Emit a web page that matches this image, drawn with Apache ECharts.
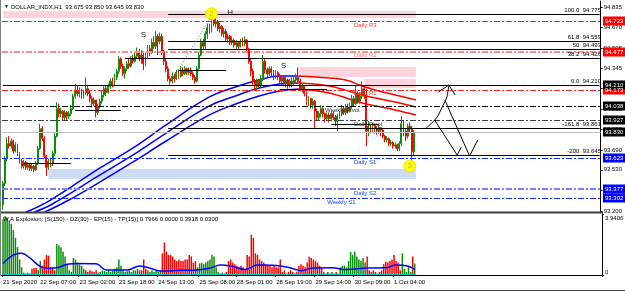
<!DOCTYPE html>
<html>
<head>
<meta charset="utf-8">
<script src="https://cdn.jsdelivr.net/npm/echarts@6/dist/echarts.min.js"></script>
<style>
  html, body { margin: 0; padding: 0; background: #fff; }
  #main { width: 625px; height: 292px; }
</style>
</head>
<body>
<div id="main"></div>
<script>
/* ============================
   DATA  (DOLLAR_INDX H1)
============================ */
const firstOpen = 93.25;
const closes = [
  93.42, 93.62, 93.74, 93.72, 93.76, 93.68, 93.73, 93.66, 93.60, 93.56,
  93.59, 93.55, 93.57, 93.54, 93.56, 93.53, 93.58, 93.70, 93.86, 93.78,
  93.64, 93.55, 93.60, 93.58, 93.66, 93.80, 94.02, 93.98, 94.00, 93.95,
  93.99, 93.96, 93.98, 94.02, 94.12, 94.17, 94.14, 94.16, 94.12, 94.15,
  94.18, 94.14, 94.10, 94.06, 94.09, 93.99, 94.04, 94.08, 94.13, 94.18,
  94.15, 94.20, 94.24, 94.21, 94.27, 94.32, 94.42, 94.36, 94.30, 94.34,
  94.38, 94.36, 94.42, 94.40, 94.44, 94.48, 94.42, 94.45, 94.38, 94.44,
  94.50, 94.47, 94.55, 94.52, 94.60, 94.56, 94.60, 94.48, 94.40, 94.34,
  94.26, 94.24, 94.28, 94.26, 94.31, 94.28, 94.33, 94.30, 94.34, 94.31,
  94.33, 94.30, 94.27, 94.24, 94.34, 94.45, 94.55, 94.52, 94.62, 94.67,
  94.64, 94.74, 94.70, 94.72, 94.66, 94.68, 94.62, 94.64, 94.58, 94.60,
  94.55, 94.57, 94.53, 94.55, 94.52, 94.56, 94.54, 94.57, 94.50, 94.40,
  94.32, 94.24, 94.20, 94.24, 94.21, 94.26, 94.40, 94.33, 94.30, 94.34,
  94.31, 94.28, 94.31, 94.28, 94.24, 94.27, 94.23, 94.25, 94.21, 94.24,
  94.22, 94.25, 94.27, 94.24, 94.18, 94.20, 94.14, 94.08, 94.10, 94.05,
  94.08, 94.00, 93.95, 93.98, 94.02, 93.98, 93.94, 93.97, 93.94, 93.98,
  93.95, 93.92, 93.96, 93.98, 94.02, 93.99, 94.03, 94.00, 94.04, 94.10,
  94.06, 94.14, 94.08, 94.12, 94.18, 94.12, 93.84, 93.88, 93.85, 93.88,
  93.86, 93.84, 93.87, 93.85, 93.80, 93.77, 93.78, 93.74, 93.75, 93.72,
  93.73, 93.70, 93.74, 93.90, 93.84, 93.80, 93.88, 93.86, 93.675, 93.83
];
const highs = [
  93.44, 93.64, 93.79, 93.80, 93.78, 93.77, 93.75, 93.74, 93.67, 93.62,
  93.61, 93.60, 93.59, 93.58, 93.58, 93.57, 93.60, 93.72, 93.90, 93.88,
  93.80, 93.65, 93.62, 93.63, 93.68, 93.83, 94.07, 94.06, 94.03, 94.01,
  94.01, 94.00, 94.00, 94.05, 94.14, 94.22, 94.20, 94.19, 94.18, 94.17,
  94.27, 94.20, 94.16, 94.12, 94.11, 94.09, 94.06, 94.10, 94.16, 94.20,
  94.21, 94.22, 94.26, 94.27, 94.30, 94.34, 94.44, 94.43, 94.38, 94.36,
  94.40, 94.42, 94.44, 94.45, 94.47, 94.51, 94.50, 94.49, 94.47, 94.47,
  94.53, 94.53, 94.58, 94.60, 94.64, 94.62, 94.63, 94.62, 94.49, 94.42,
  94.36, 94.28, 94.31, 94.30, 94.33, 94.33, 94.36, 94.35, 94.36, 94.35,
  94.35, 94.35, 94.32, 94.29, 94.36, 94.48, 94.58, 94.58, 94.64, 94.70,
  94.70, 94.775, 94.77, 94.75, 94.73, 94.71, 94.69, 94.67, 94.66, 94.62,
  94.61, 94.60, 94.58, 94.57, 94.56, 94.58, 94.59, 94.60, 94.58, 94.51,
  94.42, 94.34, 94.26, 94.26, 94.26, 94.29, 94.45, 94.42, 94.35, 94.36,
  94.36, 94.33, 94.33, 94.32, 94.30, 94.29, 94.28, 94.28, 94.26, 94.26,
  94.27, 94.28, 94.30, 94.35, 94.26, 94.22, 94.21, 94.16, 94.12, 94.11,
  94.10, 94.09, 94.02, 94.00, 94.05, 94.03, 93.99, 93.99, 93.99, 94.00,
  94.00, 93.97, 93.98, 94.00, 94.05, 94.04, 94.06, 94.06, 94.07, 94.13,
  94.12, 94.20, 94.16, 94.15, 94.24, 94.20, 94.18, 93.92, 93.89, 93.90,
  93.89, 93.88, 93.89, 93.87, 93.86, 93.81, 93.80, 93.79, 93.77, 93.76,
  93.75, 93.74, 93.76, 93.96, 93.92, 93.86, 93.90, 93.91, 93.88, 93.85
];
const lows = [
  93.21, 93.40, 93.60, 93.70, 93.70, 93.66, 93.67, 93.64, 93.58, 93.54,
  93.54, 93.53, 93.53, 93.52, 93.52, 93.51, 93.52, 93.57, 93.69, 93.76,
  93.62, 93.48, 93.53, 93.55, 93.56, 93.64, 93.79, 93.95, 93.95, 93.93,
  93.93, 93.93, 93.94, 93.96, 94.01, 94.10, 94.12, 94.11, 94.10, 94.10,
  94.13, 94.12, 94.07, 94.03, 94.04, 93.95, 93.97, 94.02, 94.06, 94.11,
  94.12, 94.14, 94.18, 94.19, 94.20, 94.25, 94.30, 94.34, 94.28, 94.26,
  94.32, 94.34, 94.35, 94.38, 94.39, 94.42, 94.40, 94.38, 94.33, 94.36,
  94.42, 94.44, 94.46, 94.50, 94.50, 94.45, 94.54, 94.45, 94.37, 94.31,
  94.24, 94.21, 94.22, 94.23, 94.25, 94.26, 94.27, 94.28, 94.29, 94.29,
  94.29, 94.28, 94.25, 94.22, 94.23, 94.32, 94.44, 94.50, 94.50, 94.58,
  94.62, 94.63, 94.68, 94.67, 94.64, 94.63, 94.60, 94.59, 94.56, 94.55,
  94.53, 94.53, 94.51, 94.50, 94.50, 94.51, 94.52, 94.52, 94.48, 94.38,
  94.28, 94.21, 94.17, 94.16, 94.19, 94.19, 94.24, 94.30, 94.27, 94.28,
  94.28, 94.25, 94.26, 94.25, 94.22, 94.21, 94.20, 94.19, 94.18, 94.19,
  94.19, 94.21, 94.22, 94.22, 94.16, 94.15, 94.12, 94.05, 94.04, 94.02,
  94.02, 93.86, 93.92, 93.92, 93.95, 93.95, 93.91, 93.92, 93.91, 93.92,
  93.93, 93.88, 93.84, 93.94, 93.96, 93.97, 93.97, 93.98, 93.99, 94.02,
  94.04, 94.05, 94.06, 94.06, 94.10, 94.10, 93.72, 93.80, 93.82, 93.83,
  93.82, 93.81, 93.82, 93.80, 93.78, 93.75, 93.75, 93.72, 93.72, 93.70,
  93.70, 93.68, 93.68, 93.72, 93.80, 93.76, 93.78, 93.83, 93.59, 93.645
];
const totalSlots = 290;   // bars + empty space on the right (chart shift)

const timeTicks = [
  [0, '21 Sep 2020'], [18, '22 Sep 07:00'], [37, '23 Sep 02:00'], [56, '23 Sep 18:00'],
  [75, '24 Sep 13:00'], [95, '25 Sep 08:00'], [113, '28 Sep 01:00'], [132, '28 Sep 19:00'],
  [151, '29 Sep 14:00'], [170, '30 Sep 09:00'], [189, '1 Oct 04:00']
];
const priceTicks = [94.835, 94.670, 94.505, 94.345, 94.180, 94.015, 93.855, 93.690, 93.530, 93.365, 93.200];

// Waddah Attar Explosion histogram: + = green bar, - = red bar
const waeHist = [
  3.6, 3.8, 3.7, 3.5, 3.3, 2.9, 2.4, 1.8, 1.0, 0.5,
  0.15, 0.1, 0.15, 0.1, -0.4, -0.45, -0.45, 0.3, 0.9, -0.6,
  -1.0, -1.3, -1.25, -0.5, -0.5, -0.3, 2.0, 1.9, 1.8, 1.5,
  1.2, 0.7, 0.3, 0.2, 1.1, 1.0, 0.8, 0.7, 0.6, 0.4,
  -0.3, -0.2, -0.3, -0.25, -0.2, -0.3, 0.15, 0.2, 0.3, 0.25,
  0.2, 0.3, 0.2, 0.3, 0.4, 0.5, 1.0, 0.6, 0.3, 0.2,
  0.25, 0.3, 0.2, 0.3, 0.3, 0.4, -0.3, -0.3, -1.0, -0.4,
  0.3, 0.2, 0.3, 0.2, 0.35, 0.2, 0.3, -1.4, -2.1, -1.5,
  -1.3, -1.3, -1.2, -1.0, -0.9, -1.0, -0.9, -0.9, -1.0, -1.0,
  -1.3, -1.2, -0.8, -0.9, 0.5, 0.75, 0.8, 0.7, 0.8, 0.9,
  1.0, 1.3, 1.2, 0.5, 0.2, -0.1, -0.15, 0.1, -0.2, -0.9,
  -1.0, -0.8, -0.7, -0.6, -0.5, -0.6, -0.5, -0.4, -1.3, -1.2,
  -2.6, -2.4, -1.4, -1.3, -1.0, -0.9, -0.8, -0.7, -0.6, -0.6,
  -0.5, -0.6, -0.5, -0.5, -1.0, -0.2, -0.3, -0.1, -0.2, -0.3,
  -0.2, -0.1, -0.2, -0.6, -0.7, -0.6, -0.5, -0.8, -1.2, -1.1,
  -1.0, -0.9, -0.8, -0.6, -0.5, 0.2, -0.1, -0.2, 0.1, 0.2,
  -0.1, -0.2, 0.1, 0.5, 0.6, 0.6, 0.5, 0.9, 1.5, 1.3,
  1.5, 1.2, 1.0, 0.9, 1.1, 0.8, -1.2, -0.3, -0.2, -0.3,
  -0.2, -0.1, -0.2, -0.3, -0.7, -0.85, -0.8, -0.9, -1.0, -1.3,
  -0.9, -0.8, -0.3, 1.4, 0.4, 0.2, 0.6, 0.2, -1.2, 0.75
];
const waeLine = [
  [0, 0.75], [6, 1.35], [9, 1.4], [13, 1.1], [18, 0.55], [23, 0.43], [27, 0.5], [31, 0.7],
  [36, 0.75], [45, 0.72], [50, 0.32], [60, 0.32], [66, 0.58], [72, 0.4], [76, 0.26], [86, 0.3],
  [94, 0.32], [100, 0.45], [105, 0.64], [111, 0.55], [117, 0.36], [123, 0.64], [132, 0.62],
  [139, 0.45], [144, 0.28], [150, 0.45], [159, 0.47], [166, 0.35], [176, 0.45], [185, 0.47],
  [190, 0.65], [195, 0.6], [199, 0.36]
];
const waeDeadZone = 0.03;
const waeMax = 3.9406;

// moving-average ribbon, blue while rising, red while falling
const maBlueUpper = [[11, 93.19], [23, 93.288], [47, 93.545], [63, 93.705], [79, 93.89], [100, 94.114], [114, 94.202], [124, 94.25], [134, 94.282], [143, 94.282]];
const maBlueMid   = [[15, 93.19], [23, 93.248], [47, 93.489], [63, 93.649], [79, 93.825], [100, 94.042], [114, 94.13], [124, 94.186], [134, 94.218], [143, 94.226]];
const maBlueLower = [[20, 93.19], [31, 93.28], [47, 93.433], [63, 93.593], [79, 93.761], [100, 93.97], [114, 94.066], [124, 94.122], [134, 94.162], [143, 94.178]];
const maRedUpper  = [[143, 94.282], [158, 94.266], [166, 94.25], [174, 94.202], [182, 94.162], [190, 94.13], [200, 94.09]];
const maRedMid    = [[143, 94.226], [158, 94.202], [174, 94.13], [190, 94.074], [200, 94.034]];
const maRedLower  = [[143, 94.178], [158, 94.146], [174, 94.066], [190, 94.01], [200, 93.97]];

// pivot levels
const pivotNames  = ['Daily R3', 'Daily R2', 'Daily R1', 'Weekly Pivot', 'Daily Pivot', 'Daily S1', 'Daily S2', 'Weekly S1'];
const pivotPrices = [94.723, 94.477, 94.173, 94.038, 93.927, 93.623, 93.377, 93.302];

// fibonacci expansion
const fibNames  = ['100.0', '61.8', '50', '38.2', '0.0', '-161.8', '-200'];
const fibPrices = [94.775, 94.559, 94.493, 94.426, 94.210, 93.861, 93.645];
const fibStart  = [80, 80, 80, 59, 0, 80, 80];
const fibSwing  = [[81, 94.23], [101, 94.76]];

const bidPrice = 93.830;
// short S/R segments [fromBar, toBar, price]
const srLines = [[10, 33, 93.585], [35, 57, 94.010], [85, 108, 94.330], [134, 157, 94.178], [159, 182, 93.897]];
// supply / demand zones [fromBar, toBar, top, bottom]
const supplyZones = [[0, 200, 94.803, 94.747], [143, 200, 94.354, 94.274], [175, 200, 94.258, 94.186]];
const demandZones = [[22, 200, 93.537, 93.457]];

// price tags on the right scale (drawn bottom to top of the pile)
const tagPrices = [94.723, 94.477, 94.173, 94.210, 94.038, 93.927, 93.830, 93.623, 93.377, 93.302];
const tagKinds  = ['r', 'r', 'r', 'k', 'k', 'k', 'k', 'b', 'b', 'b'];

// hand drawn arrows (bar, price)
const arrowUp    = [[205, 93.865], [210, 93.946], [213, 94.042], [215, 94.114], [216, 94.21]];
const arrowUpHd  = [[211, 94.154], [216, 94.21], [219, 94.13]];
const arrowDn1   = [[209, 93.93], [220, 93.649], [222, 93.713]];
const arrowDn2   = [[214, 94.09], [226, 93.641], [230, 93.769]];

/* ============================
   OPTION
============================ */
const FONT = '"Liberation Sans", Arial, sans-serif';
const GREEN = '#0b8f0b', RED = '#ff0000', BLUE = '#0000ff';
const xCats = Array.from({ length: totalSlots }, (_, i) => String(i));
const tickMap = new Map(timeTicks);

const candleData = closes.map((c, i) => [i === 0 ? firstOpen : closes[i - 1], c, lows[i], highs[i]]);

const pivotStyle = {
  'Daily R3': { color: '#ff2020', width: 1 }, 'Daily R2': { color: '#ff8c8c', width: 2 },
  'Daily R1': { color: '#ff2020', width: 1 }, 'Weekly Pivot': { color: '#000000', width: 1 },
  'Daily Pivot': { color: '#404040', width: 1 }, 'Daily S1': { color: '#1530ff', width: 1 },
  'Daily S2': { color: '#7080ff', width: 2 }, 'Weekly S1': { color: '#1530ff', width: 1 }
};
const dashDot = [6, 2, 2, 2];

const levelLines = [];
pivotNames.forEach((n, k) => {
  levelLines.push({ yAxis: pivotPrices[k], lineStyle: { color: pivotStyle[n].color, width: pivotStyle[n].width, type: dashDot } });
});
levelLines.push({ yAxis: bidPrice, lineStyle: { color: '#c0c0c0', width: 1, type: 'solid' } });
fibPrices.forEach((p, k) => {
  levelLines.push([{ coord: [fibStart[k], p], lineStyle: { color: '#000', width: 1, type: 'solid' } }, { coord: [totalSlots - 1, p] }]);
});
srLines.forEach(s => {
  levelLines.push([{ coord: [s[0], s[2]], lineStyle: { color: '#000', width: 1, type: 'solid' } }, { coord: [s[1], s[2]] }]);
});

const zoneAreas = supplyZones.map(z => [{ coord: [z[0], z[2]], itemStyle: { color: '#ffd3da' } }, { coord: [z[1], z[3]] }])
  .concat(demandZones.map(z => [{ coord: [z[0], z[2]], itemStyle: { color: '#cfdcf6' } }, { coord: [z[1], z[3]] }]));

function maSeries(data, color) {
  return { type: 'line', xAxisIndex: 0, yAxisIndex: 0, data, smooth: 0.4, showSymbol: false, silent: true, z: 3,
    lineStyle: { color, width: 1.5 } };
}
function penSeries(data, smooth) {
  return { type: 'line', xAxisIndex: 0, yAxisIndex: 0, data, smooth: smooth || false, showSymbol: false, silent: true, z: 6,
    lineStyle: { color: '#000', width: 1 } };
}

const option = {
  animation: false,
  backgroundColor: '#fff',
  grid: [
    { left: 2, top: 1, width: 600, height: 211 },
    { left: 2, top: 214, width: 600, height: 61 }
  ],
  xAxis: [
    { type: 'category', gridIndex: 0, data: xCats, boundaryGap: true, show: false },
    {
      type: 'category', gridIndex: 1, data: xCats, boundaryGap: true,
      axisLine: { show: false },
      axisTick: { show: true, length: 2, interval: i => tickMap.has(i), lineStyle: { color: '#000' } },
      axisLabel: {
        interval: i => tickMap.has(i), formatter: (v, i) => tickMap.get(i) || '',
        fontSize: 6, fontFamily: FONT, color: '#000', align: 'left', margin: 4
      }
    }
  ],
  yAxis: [
    {
      type: 'value', gridIndex: 0, position: 'right', min: 93.192, max: 94.883, scale: true,
      splitLine: { show: false },
      axisLine: { show: true, lineStyle: { color: '#000' } },
      axisTick: { show: true, length: 2, customValues: priceTicks, lineStyle: { color: '#000' } },
      axisLabel: { customValues: priceTicks, formatter: v => v.toFixed(3), fontSize: 6, fontFamily: FONT, color: '#000', margin: 3 }
    },
    {
      type: 'value', gridIndex: 1, position: 'right', min: 0, max: waeMax,
      splitLine: { show: false },
      axisLine: { show: true, lineStyle: { color: '#000' } },
      axisTick: { show: true, length: 2, customValues: [0, waeMax], lineStyle: { color: '#000' } },
      axisLabel: { show: false }
    }
  ],
  series: [
    {
      name: 'zones', type: 'line', xAxisIndex: 0, yAxisIndex: 0, data: [], z: 1, silent: true,
      markArea: { silent: true, data: zoneAreas }
    },
    maSeries(maBlueUpper, BLUE), maSeries(maBlueMid, BLUE), maSeries(maBlueLower, BLUE),
    maSeries(maRedUpper, RED), maSeries(maRedMid, RED), maSeries(maRedLower, RED),
    {
      name: 'DOLLAR_INDX', type: 'candlestick', xAxisIndex: 0, yAxisIndex: 0, data: candleData, z: 4,
      barWidth: 1.4, silent: true,
      itemStyle: { color: GREEN, color0: RED, borderColor: GREEN, borderColor0: RED, borderWidth: 1 },
      markLine: { silent: true, symbol: ['none', 'none'], label: { show: false }, data: levelLines }
    },
    {
      type: 'line', xAxisIndex: 0, yAxisIndex: 0, data: fibSwing, showSymbol: false, silent: true, z: 5,
      lineStyle: { color: '#707070', width: 1, type: [1, 2] }
    },
    penSeries(arrowUp, 0.3), penSeries(arrowUpHd), penSeries(arrowDn1), penSeries(arrowDn2),
    {
      name: 'WAE', type: 'bar', xAxisIndex: 1, yAxisIndex: 1, barWidth: 1.5, silent: true,
      data: waeHist.map(v => ({ value: Math.abs(v), itemStyle: { color: v >= 0 ? GREEN : RED } }))
    },
    {
      type: 'line', xAxisIndex: 1, yAxisIndex: 1, data: waeLine, smooth: 0.4, showSymbol: false, silent: true, z: 5,
      lineStyle: { color: BLUE, width: 1.5 }
    },
    {
      type: 'line', xAxisIndex: 1, yAxisIndex: 1, data: [[0, waeDeadZone], [closes.length - 1, waeDeadZone]],
      showSymbol: false, silent: true, z: 5, lineStyle: { color: '#00c8c8', width: 1 }
    }
  ]
};

const chart = echarts.init(document.getElementById('main'));
chart.setOption(option);

/* ============================
   OVERLAY TEXT / OBJECTS
============================ */
function overlay() {
  const P = (i, p) => chart.convertToPixel({ gridIndex: 0 }, [i, p]);
  const g = [];
  const txt = (x, y, s, fill, size, align) => ({
    type: 'text', x, y, silent: true, z: 50,
    style: { text: s, fill, font: (size || 6) + 'px ' + FONT, align: align || 'left', verticalAlign: 'middle' }
  });

  // header
  g.push(txt(4, 7, '\u25BC', '#000', 5));
  g.push(txt(11, 7, 'DOLLAR_INDX,H1  93.675 93.850 93.645 93.830', '#000', 6));

  // fib labels
  fibPrices.forEach((p, k) => {
    g.push(txt(601, P(0, p)[1] - 4, fibNames[k] + '  ' + p.toFixed(3), '#000', 6, 'right'));
  });

  // pivot labels
  const pivotLabelBar = { 'Weekly Pivot': 156, 'Weekly S1': 157 };
  const pivotLabelColor = {
    'Daily R3': '#ff3030', 'Daily R2': '#ff7070', 'Daily R1': '#ff3030', 'Weekly Pivot': '#303030',
    'Daily Pivot': '#303030', 'Daily S1': '#2040ff', 'Daily S2': '#2040ff', 'Weekly S1': '#2040ff'
  };
  pivotNames.forEach((n, k) => {
    const pt = P(pivotLabelBar[n] || 170, pivotPrices[k]);
    g.push(txt(pt[0], pt[1] + 4, n, pivotLabelColor[n], 6));
  });

  // swing letters
  [[68, 94.611, 'S'], [110, 94.787, 'H'], [136, 94.362, 'S']].forEach(s => {
    const pt = P(s[0], s[1]);
    g.push(txt(pt[0], pt[1], s[2], '#202020', 8, 'center'));
  });

  // wave markers
  [[101, 94.78, '2'], [197, 93.56, '3']].forEach(m => {
    const pt = P(m[0], m[1]);
    g.push({ type: 'circle', silent: true, z: 40, shape: { cx: pt[0], cy: pt[1], r: 6 },
      style: { fill: '#ffff00', stroke: '#e8e800', lineWidth: 1 } });
    g.push(txt(pt[0], pt[1], m[2], '#b0b0b0', 8, 'center'));
  });

  // price tags on the right scale
  const tagFill = { r: '#ff0000', k: '#000000', b: '#0000ff' };
  tagPrices.forEach((p, k) => {
    const y = Math.round(P(0, p)[1]);
    g.push({ type: 'rect', silent: true, z: 60, shape: { x: 603, y: y - 4.5, width: 22, height: 9 },
      style: { fill: tagFill[tagKinds[k]] } });
    g.push(Object.assign(txt(605, y, p.toFixed(3), '#ffffff', 6), { z: 61 }));
  });

  // indicator panel texts
  g.push(txt(3, 219, 'W.A Explosion: [S(150) - DZ(30) - EP(15) - TP(15)] 0.7966 0.0000 0.3918 0.0300', '#000', 6));
  g.push(txt(605, 218, waeMax.toFixed(4), '#000', 6));
  g.push(txt(605, 272, '0', '#000', 6));

  // frame
  const line = (x1, y1, x2, y2, stroke, w) => ({ type: 'line', silent: true, z: 45,
    shape: { x1, y1, x2, y2 }, style: { stroke, lineWidth: w || 1 } });
  g.push(line(0, 212.5, 603, 212.5, '#404040', 2));
  g.push(line(0, 275.5, 603, 275.5, '#000', 1));
  g.push(line(0.5, 0, 0.5, 276, '#808080', 1));
  g.push(line(0, 290.5, 625, 290.5, '#404040', 1));
  return g;
}

chart.setOption({ graphic: overlay() });
</script>
</body>
</html>
